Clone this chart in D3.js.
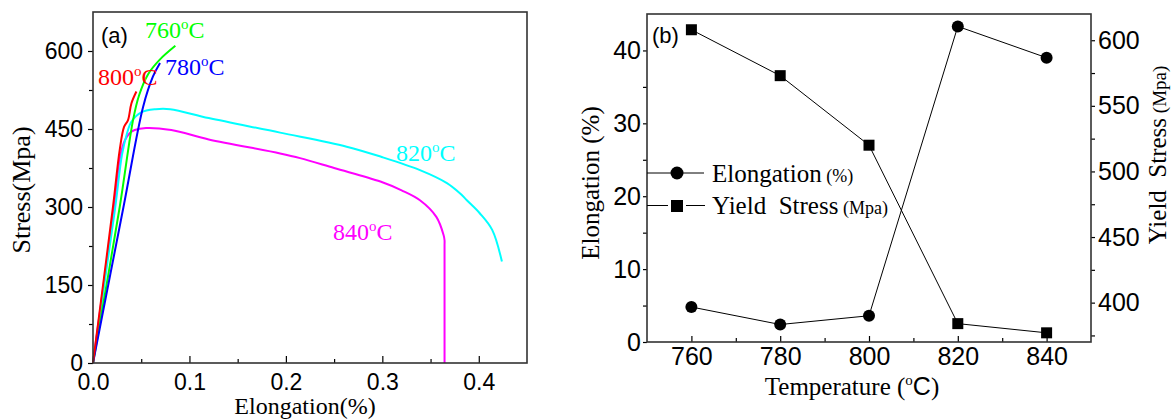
<!DOCTYPE html>
<html lang="en">
<head>
    <meta charset="utf-8">
    <title>Stress-strain curves and properties vs temperature</title>
    <script src="https://d3js.org/d3.v7.min.js"></script>
    <style>
        body { margin: 0; background: #fff; }
        .tick_lbl text { font-family: "Liberation Sans", Arial, sans-serif; fill: #000; }
        .serif { font-family: "Liberation Serif", "Times New Roman", serif; }
    </style>
</head>
<body>
<div id="chart_area"></div>
<script type="text/javascript">
    // panel (a): stress-strain curves, [elongation, stress]
    var curve_840 = [[0,0],[0.0218,300],[0.0285,400],[0.033,428],[0.038,442],[0.0432,448],[0.055,452],[0.0812,448],[0.12,430],[0.194,403],[0.2147,394],[0.25,375],[0.298,349],[0.32,332],[0.339,313],[0.356,281],[0.3635,246],[0.3645,236],[0.3645,226],[0.3645,0]];
    var curve_820 = [[0,0],[0.0231,300],[0.03,400],[0.035,440],[0.0398,464],[0.05,482],[0.065,488],[0.08,488],[0.12,471],[0.194,443],[0.263,416],[0.298,397],[0.339,371],[0.367,346],[0.3807,326],[0.3876,313],[0.401,288],[0.4139,256],[0.424,195]];
    var curve_760 = [[0,0],[0.0277,300],[0.0415,467],[0.0478,515],[0.057,555],[0.069,583],[0.0854,610]];
    var curve_780 = [[0,0],[0.0316,300],[0.052,493],[0.0622,551],[0.0695,577]];
    var curve_800 = [[0,0],[0.0207,300],[0.0277,410],[0.0322,454],[0.0363,467],[0.0398,499],[0.045,522]];

    var a_x_ticks = [0, 0.1, 0.2, 0.3, 0.4];
    var a_x_minor = [0.05, 0.15, 0.25, 0.35];
    var a_y_ticks = [0, 150, 300, 450, 600];
    var a_y_minor = [75, 225, 375, 525];

    // panel (b): elongation and yield stress by temperature
    var temps = [760, 780, 800, 820, 840];
    var elongation = [4.8, 2.4, 3.6, 43.3, 39.0];
    var yield_stress = [608, 573, 520, 384, 377];

    var b_x_ticks = [760, 780, 800, 820, 840];
    var b_x_minor = [770, 790, 810, 830];
    var b_left_ticks = [0, 10, 20, 30, 40];
    var b_left_minor = [5, 15, 25, 35];
    var b_right_ticks = [400, 450, 500, 550, 600];
    var b_right_minor = [375, 425, 475, 525, 575];

    var svg = d3.select("#chart_area").append("svg").attr("width", 1172).attr("height", 420);
    svg.append("rect").attr("width", 1172).attr("height", 420).attr("fill", "#fff");

    // ---------- panel (a) ----------
    var ax = d3.scaleLinear().domain([0, 0.45]).range([93, 527]);
    var ay = d3.scaleLinear().domain([0, 675]).range([363, 12]);

    function styleAxis(g, size) {
        g.select(".domain").remove();
        g.selectAll("line").attr("stroke", "#000").attr("stroke-width", 1.2);
        g.attr("class", "tick_lbl").selectAll("text").attr("font-size", size);
    }

    svg.append("g").attr("transform", "translate(0,363)")
        .call(d3.axisBottom(ax).tickValues(a_x_ticks).tickSize(-7).tickPadding(11).tickFormat(d3.format(".1f")))
        .call(styleAxis, 23);
    svg.append("g").attr("transform", "translate(0,363)")
        .call(d3.axisBottom(ax).tickValues(a_x_minor).tickSize(-4).tickFormat(""))
        .call(styleAxis, 23);
    svg.append("g").attr("transform", "translate(93,0)")
        .call(d3.axisLeft(ay).tickValues(a_y_ticks).tickSize(5).tickPadding(5))
        .call(styleAxis, 23);
    svg.append("g").attr("transform", "translate(93,0)")
        .call(d3.axisLeft(ay).tickValues(a_y_minor).tickSize(4).tickFormat(""))
        .call(styleAxis, 23);

    var aline = d3.line().x(d => ax(d[0])).y(d => ay(d[1])).curve(d3.curveCatmullRom.alpha(0.5));
    var a_series = [
        {data: curve_840, color: "#ff00ff"},
        {data: curve_820, color: "#00ffff"},
        {data: curve_760, color: "#00ff00"},
        {data: curve_780, color: "#0000ff"},
        {data: curve_800, color: "#ff0000"}
    ];
    svg.append("g").selectAll("path").data(a_series).join("path")
        .attr("d", d => aline(d.data))
        .attr("fill", "none")
        .attr("stroke", d => d.color)
        .attr("stroke-width", 2);

    svg.append("rect").attr("x", 93).attr("y", 12).attr("width", 434).attr("height", 351)
        .attr("fill", "none").attr("stroke", "#333").attr("stroke-width", 1.6);

    var a_labels = [
        {t: "760", x: 145, y: 38, c: "#00ff00"},
        {t: "780", x: 165, y: 75, c: "#0000ff"},
        {t: "800", x: 98, y: 85, c: "#ff0000"},
        {t: "820", x: 396, y: 161, c: "#00ffff"},
        {t: "840", x: 333, y: 240, c: "#ff00ff"}
    ];
    a_labels.forEach(function (l) {
        var t = svg.append("text").attr("class", "serif").attr("x", l.x).attr("y", l.y)
            .attr("font-size", 24).attr("fill", l.c).text(l.t);
        t.append("tspan").attr("font-size", 15).attr("dy", -9).text("o");
        t.append("tspan").attr("dy", 9).text("C");
    });

    svg.append("text").attr("x", 101).attr("y", 43).attr("font-family", "Liberation Sans, Arial, sans-serif")
        .attr("font-size", 22).text("(a)");

    svg.append("text").attr("class", "serif").attr("x", 305).attr("y", 414).attr("text-anchor", "middle")
        .attr("font-size", 24).text("Elongation(%)");
    svg.append("text").attr("class", "serif").attr("transform", "translate(30,190) rotate(-90)")
        .attr("text-anchor", "middle").attr("font-size", 26).text("Stress(Mpa)");

    // ---------- panel (b) ----------
    var bx = d3.scaleLinear().domain([750, 850]).range([647, 1091]);
    var byl = d3.scaleLinear().domain([0, 45]).range([342, 14]);
    var byr = d3.scaleLinear().domain([370, 620]).range([342, 14]);

    svg.append("g").attr("transform", "translate(0,342)")
        .call(d3.axisBottom(bx).tickValues(b_x_ticks).tickSize(-6).tickPadding(5))
        .call(styleAxis, 25);
    svg.append("g").attr("transform", "translate(0,342)")
        .call(d3.axisBottom(bx).tickValues(b_x_minor).tickSize(-4).tickFormat(""))
        .call(styleAxis, 25);
    svg.append("g").attr("transform", "translate(647,0)")
        .call(d3.axisLeft(byl).tickValues(b_left_ticks).tickSize(4).tickPadding(2))
        .call(styleAxis, 25);
    svg.append("g").attr("transform", "translate(647,0)")
        .call(d3.axisLeft(byl).tickValues(b_left_minor).tickSize(4).tickFormat(""))
        .call(styleAxis, 25);
    svg.append("g").attr("transform", "translate(1091,0)")
        .call(d3.axisRight(byr).tickValues(b_right_ticks).tickSize(4).tickPadding(3))
        .call(styleAxis, 25);
    svg.append("g").attr("transform", "translate(1091,0)")
        .call(d3.axisRight(byr).tickValues(b_right_minor).tickSize(4).tickFormat(""))
        .call(styleAxis, 25);

    var elong_pts = temps.map((t, i) => [t, elongation[i]]);
    var yield_pts = temps.map((t, i) => [t, yield_stress[i]]);

    svg.append("path").attr("d", d3.line().x(d => bx(d[0])).y(d => byl(d[1]))(elong_pts))
        .attr("fill", "none").attr("stroke", "#000").attr("stroke-width", 1);
    svg.append("path").attr("d", d3.line().x(d => bx(d[0])).y(d => byr(d[1]))(yield_pts))
        .attr("fill", "none").attr("stroke", "#000").attr("stroke-width", 1);

    svg.append("g").selectAll("circle").data(elong_pts).join("circle")
        .attr("cx", d => bx(d[0])).attr("cy", d => byl(d[1])).attr("r", 6).attr("fill", "#000");
    svg.append("g").selectAll("rect").data(yield_pts).join("rect")
        .attr("x", d => bx(d[0]) - 5.5).attr("y", d => byr(d[1]) - 5.5)
        .attr("width", 11).attr("height", 11).attr("fill", "#000");

    svg.append("rect").attr("x", 647).attr("y", 14).attr("width", 444).attr("height", 328)
        .attr("fill", "none").attr("stroke", "#333").attr("stroke-width", 1.6);

    // legend
    var leg = svg.append("g");
    leg.append("line").attr("x1", 647).attr("x2", 704).attr("y1", 173).attr("y2", 173).attr("stroke", "#000");
    leg.append("circle").attr("cx", 677).attr("cy", 173).attr("r", 6.5).attr("fill", "#000");
    leg.append("line").attr("x1", 647).attr("x2", 668).attr("y1", 205.5).attr("y2", 205.5).attr("stroke", "#000");
    leg.append("line").attr("x1", 686).attr("x2", 705).attr("y1", 205.5).attr("y2", 205.5).attr("stroke", "#000");
    leg.append("rect").attr("x", 671).attr("y", 200).attr("width", 12).attr("height", 12).attr("fill", "#000");
    var l1 = leg.append("text").attr("class", "serif").attr("x", 712).attr("y", 182).attr("font-size", 25).text("Elongation");
    l1.append("tspan").attr("font-size", 18).text(" (%)");
    var l2 = leg.append("text").attr("class", "serif").attr("x", 712).attr("y", 214).attr("font-size", 25)
        .style("white-space", "pre").text("Yield  Stress");
    l2.append("tspan").attr("font-size", 18).text(" (Mpa)");

    svg.append("text").attr("x", 652).attr("y", 43).attr("font-family", "Liberation Sans, Arial, sans-serif")
        .attr("font-size", 22).text("(b)");

    var xl = svg.append("text").attr("class", "serif").attr("x", 852).attr("y", 395).attr("text-anchor", "middle")
        .attr("font-size", 25).text("Temperature (");
    xl.append("tspan").attr("font-size", 15).attr("dy", -10).text("o");
    xl.append("tspan").attr("dy", 10).attr("font-family", "Liberation Sans, Arial, sans-serif").text("C");
    xl.append("tspan").text(")");

    svg.append("text").attr("class", "serif").attr("transform", "translate(599,183) rotate(-90)")
        .attr("text-anchor", "middle").attr("font-size", 25).text("Elongation (%)");

    var yr = svg.append("text").attr("class", "serif").attr("transform", "translate(1166,155) rotate(-90)")
        .attr("text-anchor", "middle").attr("font-size", 25).style("white-space", "pre").text("Yield  Stress");
    yr.append("tspan").attr("font-size", 19).text(" (Mpa)");
</script>
</body>
</html>
